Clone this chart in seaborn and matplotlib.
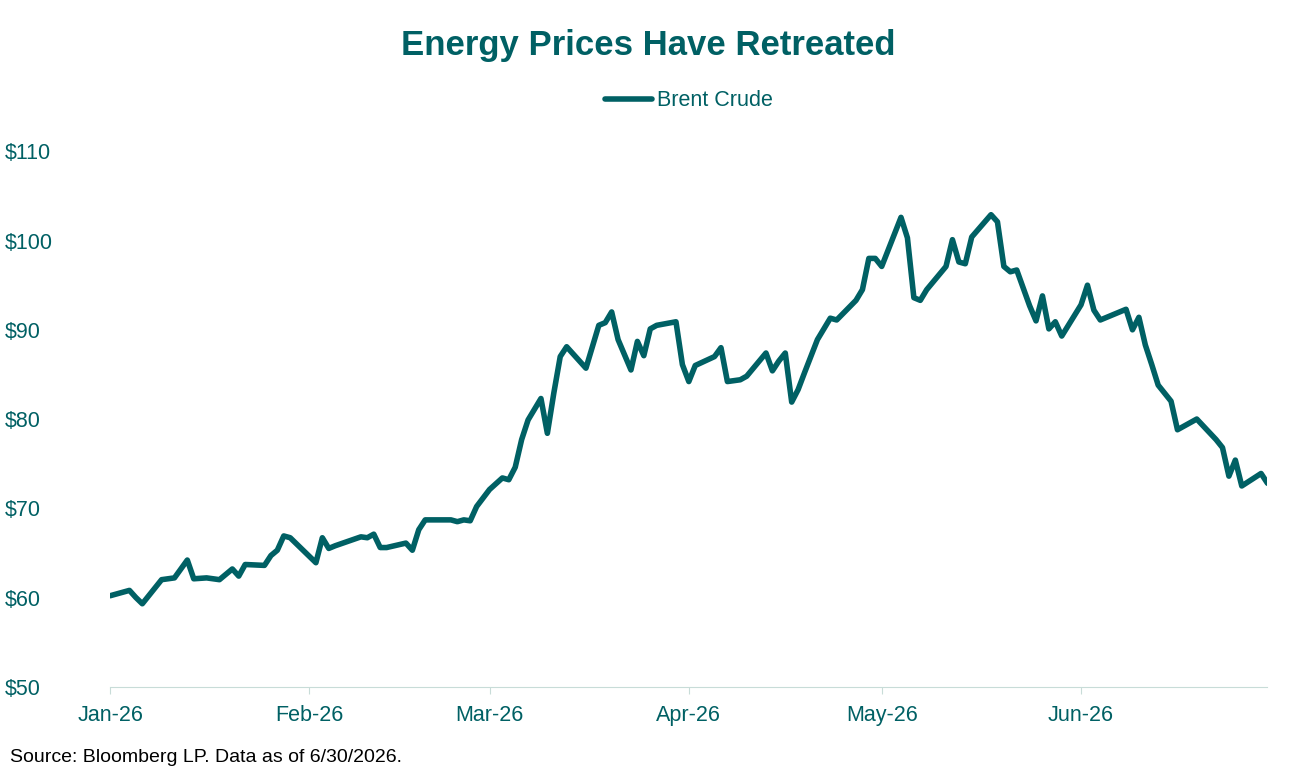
import pandas as pd
import numpy as np
import matplotlib.pyplot as plt
import matplotlib.dates as mdates
import seaborn as sns

sns.set_style('white')
plt.rcParams['font.family'] = ['Liberation Sans', 'DejaVu Sans']

teal = '#006064'

# days since Jan 1 2026 and Brent price
day_offsets = [0, 3, 4, 5, 7, 8, 10, 12, 13, 15, 17, 19, 20, 21, 24, 25, 26, 27, 28, 32,
               33, 34, 35, 37, 39, 40, 41, 42, 43, 46, 47, 48, 49, 51, 53, 54, 55, 56, 57, 59,
               61, 62, 63, 64, 65, 67, 68, 69, 70, 71, 72, 74, 76, 77, 78, 79, 81, 82, 83, 84,
               85, 88, 89, 90, 91, 94, 95, 96, 98, 99, 102, 103, 104, 105, 106, 107, 108, 110, 112, 113,
               116, 117, 118, 119, 120, 123, 124, 125, 126, 127, 130, 131, 132, 133, 134, 137, 138, 139, 140, 141,
               143, 144, 145, 146, 147, 148, 151, 152, 153, 154, 158, 159, 160, 161, 162, 163, 165, 166, 168, 169,
               172, 173, 174, 175, 176, 179, 180]
brent = [60.2, 60.8, 60.0, 59.3, 61.1, 62.0, 62.2, 64.2, 62.1, 62.2, 62.0, 63.2, 62.4, 63.7, 63.6, 64.7, 65.3, 66.9, 66.7, 63.9,
         66.7, 65.5, 65.8, 66.3, 66.8, 66.7, 67.1, 65.6, 65.6, 66.1, 65.3, 67.6, 68.7, 68.7, 68.7, 68.5, 68.7, 68.6, 70.2, 72.1,
         73.4, 73.2, 74.6, 77.7, 79.9, 82.3, 78.4, 82.9, 87.0, 88.1, 87.3, 85.7, 90.5, 90.8, 92.0, 88.9, 85.5, 88.7, 87.1, 90.1,
         90.5, 90.9, 86.1, 84.2, 86.0, 87.0, 88.0, 84.2, 84.4, 84.8, 87.4, 85.4, 86.5, 87.4, 81.9, 83.3, 85.2, 88.9, 91.3, 91.1,
         93.3, 94.5, 98.0, 98.0, 97.1, 102.6, 100.3, 93.6, 93.3, 94.5, 97.1, 100.1, 97.6, 97.4, 100.4, 102.9, 102.1, 97.1, 96.5, 96.7,
         92.7, 91.0, 93.8, 90.1, 90.9, 89.3, 92.8, 95.0, 92.2, 91.1, 92.3, 90.0, 91.4, 88.3, 86.1, 83.8, 82.0, 78.8, 79.6, 80.0,
         77.7, 76.8, 73.6, 75.4, 72.5, 73.9, 72.8]

df = pd.DataFrame({'date': pd.Timestamp('2026-01-01') + pd.to_timedelta(day_offsets, unit='D'),
                   'Brent Crude': brent})

fig = plt.figure(figsize=(12.96, 7.76), dpi=100)
ax = fig.add_axes([0.085, 0.115, 0.893, 0.69])
sns.lineplot(data=df, x='date', y='Brent Crude', color=teal, linewidth=4, ax=ax, label='Brent Crude')

ax.set_xlim(pd.Timestamp('2026-01-01'), pd.Timestamp('2026-06-30'))
ax.set_ylim(50, 110)
ax.set_yticks(range(50, 111, 10))
ax.set_yticklabels([f'${v}' for v in range(50, 111, 10)])
ax.xaxis.set_major_locator(mdates.MonthLocator())
ax.xaxis.set_major_formatter(mdates.DateFormatter('%b-%y'))
ax.set_xlabel('')
ax.set_ylabel('')
for s in ['top', 'right', 'left']:
    ax.spines[s].set_visible(False)
ax.spines['bottom'].set_color('#c8dcd8')
ax.tick_params(axis='x', colors=teal, labelsize=15.5, length=5, color='#c8dcd8', direction='out', bottom=True, pad=8)
ax.tick_params(axis='y', colors=teal, labelsize=15.5, length=0, pad=76)
for lbl in ax.get_yticklabels():
    lbl.set_horizontalalignment('left')

leg = ax.legend(loc='upper center', bbox_to_anchor=(0.5, 1.15), frameon=False, fontsize=15.5,
                handlelength=2.2, handletextpad=0.2)
for t in leg.get_texts():
    t.set_color(teal)

fig.text(0.5, 0.942, 'Energy Prices Have Retreated', ha='center', va='center',
         fontsize=25, fontweight='bold', color=teal)
fig.text(0.008, 0.018, 'Source: Bloomberg LP. Data as of 6/30/2026.', fontsize=14, color='black')

plt.savefig('out.png')
